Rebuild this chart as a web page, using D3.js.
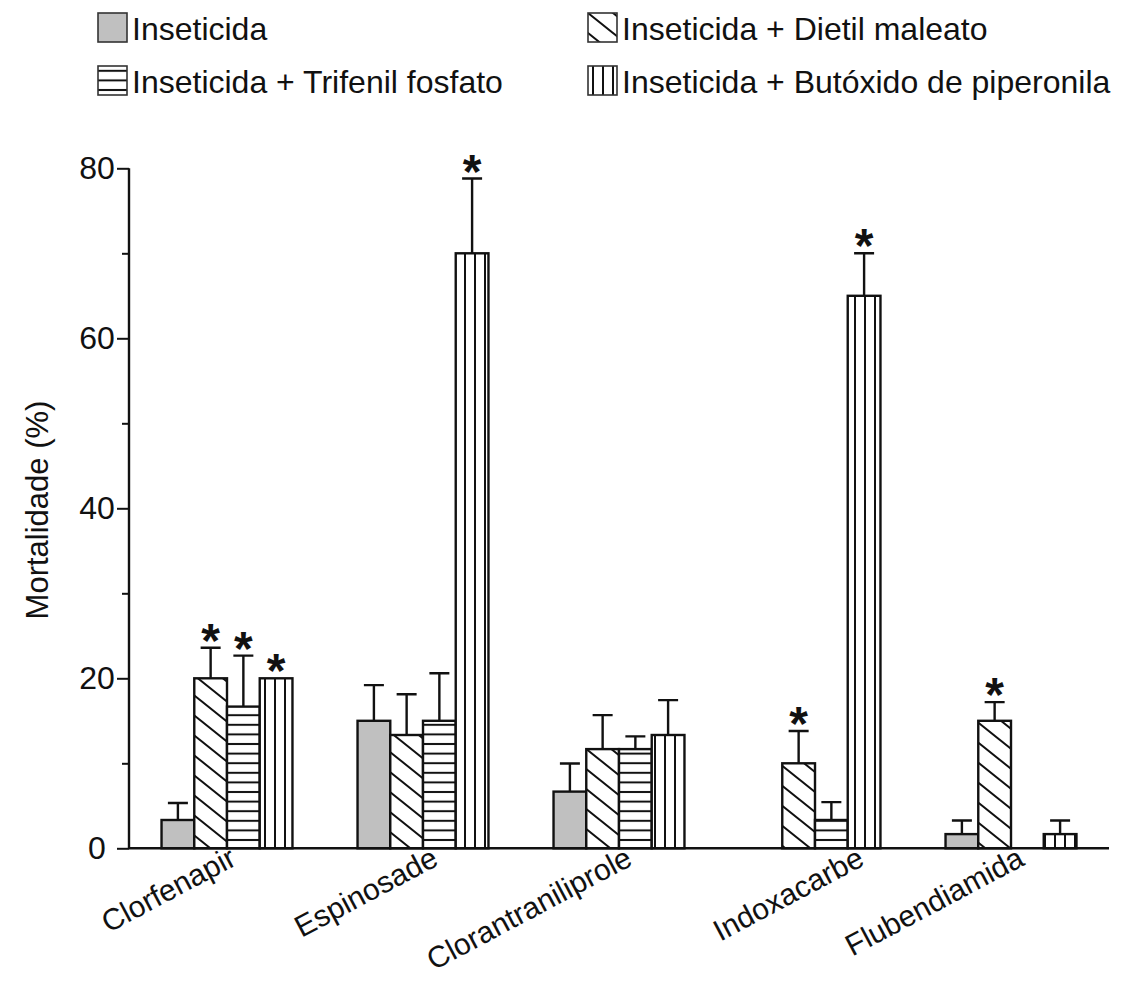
<!DOCTYPE html>
<html>
<head>
<meta charset="utf-8">
<script src="https://cdn.jsdelivr.net/npm/d3@7"></script>
<style>
  html, body { margin: 0; padding: 0; background: #ffffff; }
  svg { display: block; font-family: "Liberation Sans", Arial, sans-serif; }
</style>
</head>
<body>
<svg id="chart" width="1128" height="985"></svg>
<script>
// Mortality (%) per insecticide, alone and with synergists (mean + SE)
const categories = ["Clorfenapir", "Espinosade", "Clorantraniliprole", "Indoxacarbe", "Flubendiamida"];
const seriesNames = [
  "Inseticida",
  "Inseticida + Dietil maleato",
  "Inseticida + Trifenil fosfato",
  "Inseticida + Butóxido de piperonila"
];
const inseticida      = [3.33, 15.0, 6.67, 0, 1.67];
const inseticidaErr   = [2.0, 4.2, 3.3, 0, 1.6];
const dietilMaleato   = [20.0, 13.33, 11.67, 10.0, 15.0];
const dietilErr       = [3.6, 4.8, 4.0, 3.8, 2.2];
const trifenilFosfato = [16.67, 15.0, 11.67, 3.33, 0];
const trifenilErr     = [6.0, 5.6, 1.5, 2.1, 0];
const butoxido        = [20.0, 70.0, 13.33, 65.0, 1.67];
const butoxidoErr     = [0, 8.8, 4.1, 5.0, 1.6];
// significant difference from the insecticide alone
const dietilSig   = [true, false, false, true, true];
const trifenilSig = [true, false, false, false, false];
const butoxidoSig = [true, true, false, true, false];
const insetSig    = [false, false, false, false, false];
const yTicks = [0, 20, 40, 60, 80];
const yMinorTicks = [10, 30, 50, 70];
const yLabel = "Mortalidade (%)";

const values = [inseticida, dietilMaleato, trifenilFosfato, butoxido];
const errors = [inseticidaErr, dietilErr, trifenilErr, butoxidoErr];
const signif = [insetSig, dietilSig, trifenilSig, butoxidoSig];
const fills = ["url(#solidGray)", "url(#diag)", "url(#horiz)", "url(#vert)"];

// rotated category label placement (horizontal shift of the label end)
const labelShift = [11, 17, 15, 51, 15];

const svg = d3.select("#chart");
const ink = "#111";

// ---- fill patterns ----
const defs = svg.append("defs");
const gray = defs.append("pattern").attr("id", "solidGray")
  .attr("patternUnits", "userSpaceOnUse").attr("width", 10).attr("height", 10);
gray.append("rect").attr("width", 10).attr("height", 10).attr("fill", "#c0c0c0");

const diag = defs.append("pattern").attr("id", "diag")
  .attr("patternUnits", "userSpaceOnUse").attr("width", 25).attr("height", 20);
diag.append("rect").attr("width", 25).attr("height", 20).attr("fill", "#fff");
diag.append("path").attr("d", "M-25,-20L50,40M0,-20L50,20M-25,0L25,40")
  .attr("stroke", ink).attr("stroke-width", 2);

const horiz = defs.append("pattern").attr("id", "horiz")
  .attr("patternUnits", "userSpaceOnUse").attr("width", 10).attr("height", 9.6);
horiz.append("rect").attr("width", 10).attr("height", 9.6).attr("fill", "#fff");
horiz.append("path").attr("d", "M0,4.8H10").attr("stroke", ink).attr("stroke-width", 2);

const vert = defs.append("pattern").attr("id", "vert")
  .attr("patternUnits", "userSpaceOnUse").attr("width", 10).attr("height", 10);
vert.append("rect").attr("width", 10).attr("height", 10).attr("fill", "#fff");
vert.append("path").attr("d", "M5,0V10").attr("stroke", ink).attr("stroke-width", 2);

// ---- scales ----
const plotLeft = 129, plotRight = 1109, plotTop = 168.3, plotBottom = 848.3;
const x0 = d3.scaleBand().domain(categories).range([plotLeft, plotRight])
  .paddingInner(0.332).paddingOuter(0.166);
const x1 = d3.scaleBand().domain(d3.range(seriesNames.length)).range([0, x0.bandwidth()]);
const y = d3.scaleLinear().domain([0, 80]).range([plotBottom, plotTop]);

// ---- bars, error bars, asterisks ----
const barData = [];
categories.forEach((c, i) => {
  values.forEach((vals, s) => {
    barData.push({ cat: c, s, v: vals[i], e: errors[s][i], sig: signif[s][i] });
  });
});
const shown = barData.filter(d => d.v > 0);

const g = svg.append("g");
g.selectAll("rect.bar").data(shown).join("rect")
  .attr("class", "bar")
  .attr("x", d => x0(d.cat) + x1(d.s))
  .attr("y", d => y(d.v))
  .attr("width", x1.bandwidth())
  .attr("height", d => y(0) - y(d.v))
  .attr("fill", d => fills[d.s])
  .attr("stroke", ink).attr("stroke-width", 2.4);

const capHalf = 10;
const withErr = shown.filter(d => d.e > 0);
g.selectAll("path.err").data(withErr).join("path")
  .attr("class", "err")
  .attr("d", d => {
    const cx = x0(d.cat) + x1(d.s) + x1.bandwidth() / 2;
    return `M${cx},${y(d.v)}V${y(d.v + d.e)}M${cx - capHalf},${y(d.v + d.e)}H${cx + capHalf}`;
  })
  .attr("fill", "none").attr("stroke", ink).attr("stroke-width", 2.4);

g.selectAll("text.sig").data(shown.filter(d => d.sig)).join("text")
  .attr("class", "sig")
  .attr("x", d => x0(d.cat) + x1(d.s) + x1.bandwidth() / 2)
  .attr("y", d => y(d.v + d.e) + 9)
  .attr("text-anchor", "middle")
  .attr("font-size", 48).attr("font-weight", "bold").attr("fill", ink)
  .text("*");

// ---- axes ----
const yAxis = d3.axisLeft(y).tickValues(yTicks).tickSize(12).tickPadding(12)
  .tickFormat(d3.format("d"));
const yG = svg.append("g").attr("transform", `translate(${plotLeft},0)`).call(yAxis);
yG.select(".domain").attr("d", `M0,${plotTop}V${plotBottom}`)
  .attr("stroke", ink).attr("stroke-width", 2.4);
yG.selectAll(".tick line").attr("stroke", ink).attr("stroke-width", 2);
yG.selectAll(".tick text").attr("font-size", 32).attr("fill", ink)
  .attr("font-family", "Liberation Sans, Arial, sans-serif")
  .attr("text-anchor", "middle").attr("x", -32);

const yMinor = d3.axisLeft(y).tickValues(yMinorTicks).tickSize(7).tickFormat("");
const yMG = svg.append("g").attr("transform", `translate(${plotLeft},0)`).call(yMinor);
yMG.select(".domain").remove();
yMG.selectAll(".tick line").attr("stroke", ink).attr("stroke-width", 2);

const xAxis = d3.axisBottom(x0).tickSize(0).tickPadding(0);
const xG = svg.append("g").attr("transform", `translate(0,${plotBottom})`).call(xAxis);
xG.select(".domain").attr("d", `M${plotLeft},0H${plotRight}`)
  .attr("stroke", ink).attr("stroke-width", 2.4);
xG.selectAll(".tick text")
  .attr("font-size", 30).attr("fill", ink)
  .attr("font-family", "Liberation Sans, Arial, sans-serif")
  .attr("text-anchor", "end")
  .attr("dy", null).attr("y", 0)
  .attr("transform", (d, i) => `translate(${labelShift[i]},16) rotate(-28)`);

svg.append("text")
  .attr("transform", `translate(48,510) rotate(-90)`)
  .attr("text-anchor", "middle")
  .attr("font-size", 31).attr("fill", ink)
  .text(yLabel);

// ---- legend ----
const legendPos = [[98, 13], [588, 13], [98, 66], [588, 66]];
const legendOrder = [0, 1, 2, 3];
const lg = svg.append("g").selectAll("g").data(legendOrder).join("g")
  .attr("transform", (s, i) => `translate(${legendPos[i][0]},${legendPos[i][1]})`);
lg.append("rect").attr("width", 29).attr("height", 29)
  .attr("fill", s => fills[s]).attr("stroke", "#333").attr("stroke-width", 1.6);
lg.append("text").attr("x", 34).attr("y", 27)
  .attr("font-size", 32).attr("fill", ink)
  .text(s => seriesNames[s]);
</script>
</body>
</html>
